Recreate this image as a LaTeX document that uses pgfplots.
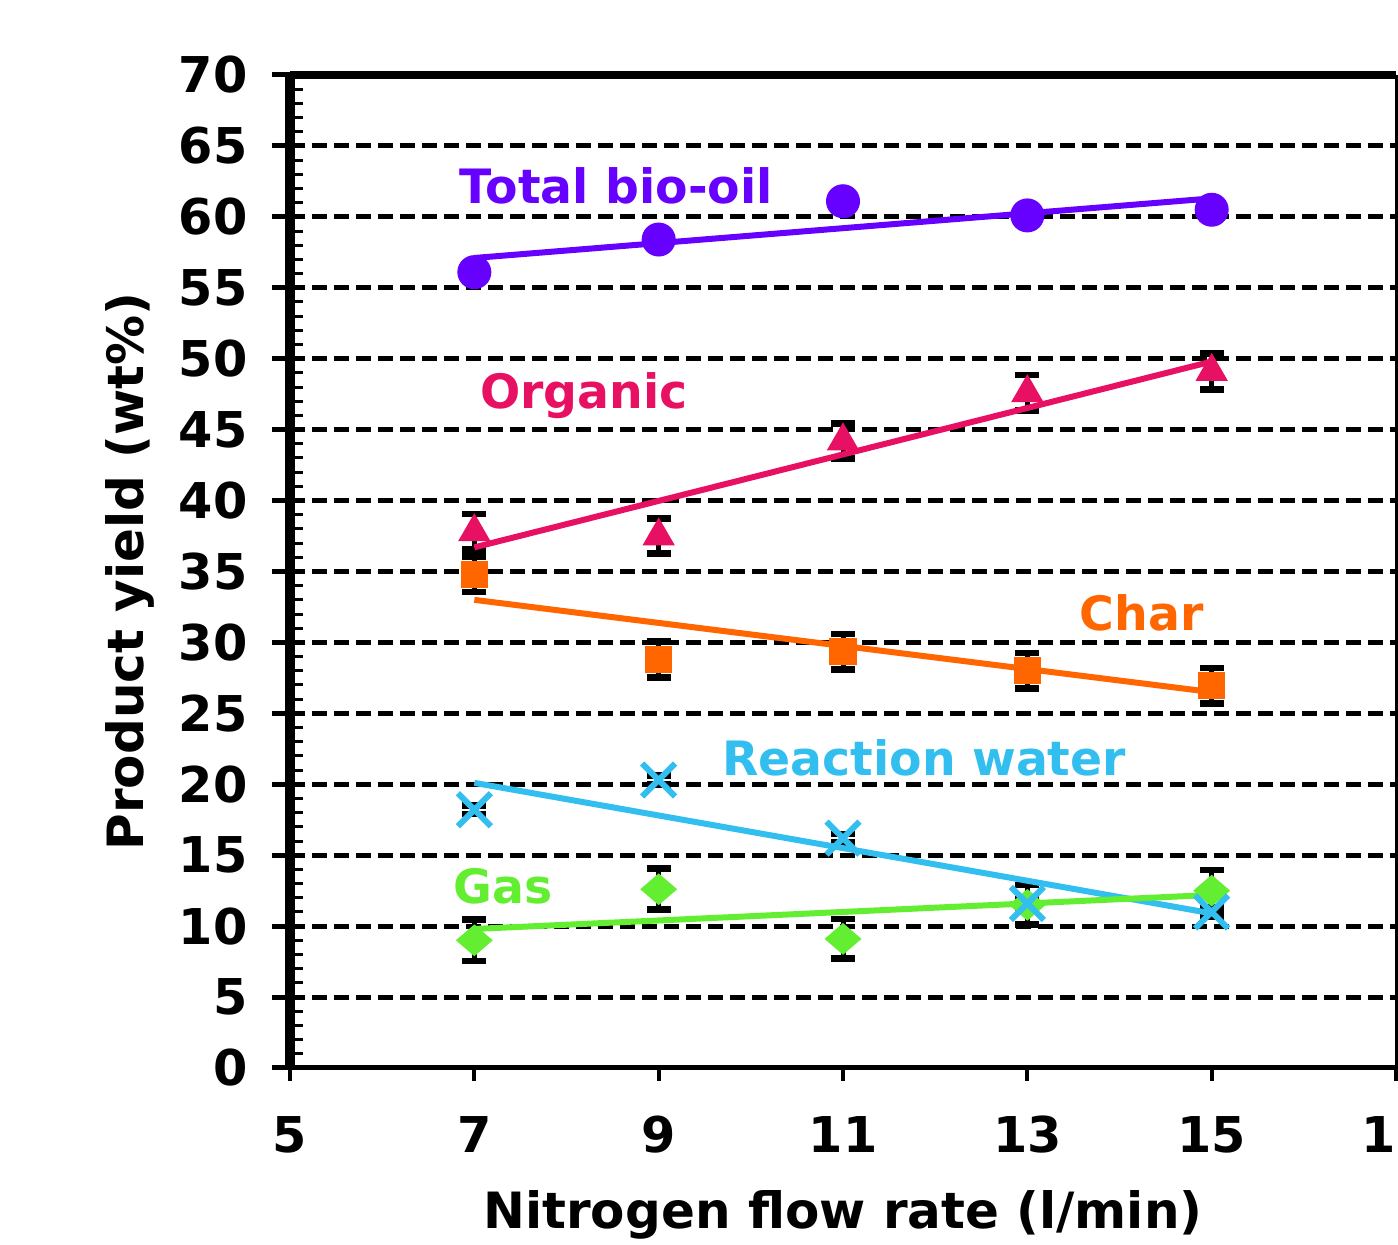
\documentclass[border=0pt]{standalone}
\usepackage{fontspec}
\setmainfont{DejaVu Sans}
\usepackage{pgfplots}
\pgfplotsset{compat=1.18}

\definecolor{biooil}{RGB}{102,0,255}
\definecolor{organic}{RGB}{232,16,98}
\definecolor{charc}{RGB}{255,102,0}
\definecolor{water}{RGB}{51,190,240}
\definecolor{gas}{RGB}{100,238,50}

\newcommand{\annfont}{\fontsize{14.2}{17}\selectfont\bfseries}

\begin{document}
\begin{tikzpicture}
\useasboundingbox (-87pt,-53.1pt) rectangle (332.4pt,320.4pt);
\begin{axis}[
  at={(0,0)}, anchor=south west,
  scale only axis, width=331.8pt, height=297.9pt,
  xmin=5, xmax=17, ymin=0, ymax=70,
  xtick={5,7,...,17}, ytick={0,5,...,70},
  minor y tick num=4,
  xtick pos=left, ytick pos=left,
  tick align=inside, xtick align=outside,
  major tick length=3.9pt, minor tick length=3.9pt,
  xtick style={line width=1.2pt, black},
  ytick style={line width=0.9pt, black},
  minor y tick style={line width=0.9pt, black},
  extra y ticks={0,5,...,70}, extra y tick labels={},
  extra y tick style={ymajorgrids=false, tick align=outside,
    major tick length=5.4pt, ytick style={line width=1.5pt, black}},
  ymajorgrids,
  major grid style={line width=1.5pt, black, dash pattern=on 4.5pt off 2.1pt},
  axis line style={draw=none},
  clip=false,
  tick label style={font=\fontsize{14.8}{17}\selectfont\bfseries},
  /pgf/number format/assume math mode=true,
  xticklabel style={yshift=-7pt},
  yticklabel style={xshift=-9.2pt},
  label style={font=\fontsize{15}{18}\selectfont\bfseries},
  xlabel={Nitrogen flow rate (l/min)},
  ylabel={Product yield (wt\%)},
  xlabel style={at={(axis description cs:0.5,-0.148)}, anchor=center},
  ylabel style={at={(axis description cs:-0.145,0.5)}, anchor=center},
  error bars/error bar style={line width=1.5pt, black},
  error bars/error mark options={rotate=90, black, line width=2pt, mark size=3.6pt},
]

% Measured yields
\addplot[only marks, color=biooil, mark=*, mark size=4.9pt]
  table[row sep=\\] {x y \\ 7 56.1 \\ 9 58.4 \\ 11 61.1 \\ 13 60.1 \\ 15 60.5 \\};

\addplot[only marks, color=organic, mark=triangle*, mark size=5.2pt,
  error bars/.cd, y dir=both, y explicit]
  table[row sep=\\, x=x, y=y, y error=e] {x y e \\ 7 37.8 1.25 \\ 9 37.5 1.25 \\ 11 44.2 1.25 \\ 13 47.6 1.25 \\ 15 49.1 1.25 \\};

\addplot[only marks, color=charc, mark=square*, mark size=3.9pt,
  error bars/.cd, y dir=both, y explicit]
  table[row sep=\\, x=x, y=y, y error=e] {x y e \\ 7 34.8 1.25 \\ 9 28.8 1.25 \\ 11 29.35 1.25 \\ 13 28.0 1.25 \\ 15 26.95 1.25 \\};

\addplot[only marks, color=gas, mark=diamond*, mark size=4.5pt,
  mark options={xscale=1.55},
  error bars/.cd, y dir=both, y explicit]
  table[row sep=\\, x=x, y=y, y error=e] {x y e \\ 7 9.0 1.45 \\ 9 12.6 1.45 \\ 11 9.1 1.4 \\ 13 11.5 1.4 \\ 15 12.5 1.45 \\};

\addplot[only marks, color=water, mark=x, mark size=7pt,
  mark options={line width=1.8pt},
  error bars/.cd, y dir=both, y explicit]
  table[row sep=\\, x=x, y=y, y error=e] {x y e \\ 7 18.2 0.3 \\ 9 20.3 0.3 \\ 11 16.2 0.3 \\ 13 11.6 0.3 \\ 15 11.0 0.3 \\};

% Linear trend lines
\addplot[no marks, color=biooil, line width=1.8pt] coordinates {(7,57.1) (15,61.3)};
\addplot[no marks, color=organic, line width=1.8pt] coordinates {(7,36.7) (15,49.8)};
\addplot[no marks, color=charc, line width=1.8pt] coordinates {(7,33.0) (15,26.5)};
\addplot[no marks, color=water, line width=1.8pt] coordinates {(7,20.1) (15,10.9)};
\addplot[no marks, color=gas, line width=1.8pt] coordinates {(7,9.8) (15,12.2)};

% Series names
\node[text=biooil, font=\annfont] at (axis cs:8.54,62.2) {Total bio-oil};
\node[text=organic, font=\annfont] at (axis cs:8.19,47.4) {Organic};
\node[text=charc, font=\annfont] at (axis cs:14.24,32.1) {Char};
\node[text=water, font=\annfont] at (axis cs:11.88,21.85) {Reaction water};
\node[text=gas, font=\annfont] at (axis cs:7.31,12.8) {Gas};

% Frame
\draw[line width=1.5pt] (rel axis cs:0,0) -- (rel axis cs:1,0);
\draw[line width=0.9pt] (rel axis cs:1,0) -- (rel axis cs:1,1);
\draw[line width=2.4pt] (rel axis cs:0,1) -- (rel axis cs:1,1);
\draw[line width=3pt] (rel axis cs:0,0) -- (rel axis cs:0,1);
\end{axis}
\end{tikzpicture}
\end{document}
